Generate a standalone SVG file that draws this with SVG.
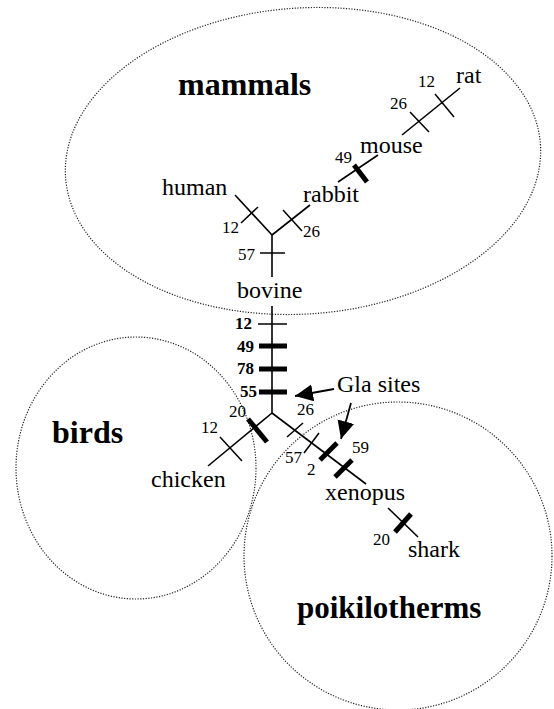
<svg xmlns="http://www.w3.org/2000/svg" width="554" height="709" viewBox="0 0 554 709">
<style>
.region{fill:none;stroke:#222;stroke-width:1.2;stroke-dasharray:1.2 1.5}
.grp{font-family:"Liberation Serif","Times New Roman",serif;font-weight:bold;font-size:32px;fill:#000}
.lbl{font-family:"Liberation Serif","Times New Roman",serif;font-size:24px;fill:#000}
.num{font-family:"Liberation Serif","Times New Roman",serif;font-size:17px;fill:#000}
.numb{font-family:"Liberation Serif","Times New Roman",serif;font-size:17px;font-weight:bold;fill:#000}
.br{stroke:#000;stroke-width:1.6;fill:none}
.tk{stroke:#000;stroke-width:1.5;fill:none}
.tkb{stroke:#000;stroke-width:5;fill:none}
.arr{stroke:#000;stroke-width:1.8;fill:none}
</style>
<defs>
<marker id="ah" markerUnits="userSpaceOnUse" markerWidth="20" markerHeight="20" refX="18" refY="8.5" orient="auto">
<path d="M0,0 L18,8.5 L0,17 Z" fill="#000"/>
</marker>
</defs>
<rect width="554" height="709" fill="#fff"/>
<g id="mammals">
<ellipse class="region" cx="303" cy="161" rx="238" ry="153" transform="rotate(-4 303 161)"/>
<text class="grp" x="178" y="95">mammals</text>
</g>
<g id="birds">
<ellipse class="region" cx="136" cy="468" rx="120" ry="131"/>
<text class="grp" x="52" y="443">birds</text>
</g>
<g id="poikilotherms">
<circle class="region" cx="398" cy="556" r="154"/>
<text class="grp" x="297" y="618" style="font-size:31px">poikilotherms</text>
</g>
<g id="connectors">
<line class="br" x1="272" y1="235" x2="272" y2="277"/>
<line class="br" x1="272" y1="235" x2="235" y2="195"/>
<line class="br" x1="272" y1="235" x2="310" y2="205"/>
<line class="br" x1="338" y1="182" x2="378" y2="155"/>
<line class="br" x1="402" y1="135" x2="460" y2="88"/>
<line class="br" x1="272" y1="306" x2="272" y2="413"/>
<line class="br" x1="272" y1="413" x2="208" y2="466"/>
<line class="br" x1="272" y1="413" x2="366" y2="484"/>
<line class="br" x1="388" y1="508" x2="418" y2="537"/>
<line class="tk" x1="241" y1="223" x2="258" y2="207"/>
<line class="tk" x1="283" y1="210" x2="302" y2="231"/>
<line class="tk" x1="260" y1="253" x2="285" y2="253"/>
<line class="tkb" x1="354" y1="165" x2="367" y2="182"/>
<line class="tk" x1="410" y1="112" x2="429" y2="132"/>
<line class="tk" x1="435" y1="94" x2="454" y2="117"/>
<line class="tk" x1="258" y1="324" x2="287" y2="324"/>
<line class="tkb" x1="259" y1="346" x2="287" y2="346"/>
<line class="tkb" x1="259" y1="369" x2="287" y2="369"/>
<line class="tkb" x1="259" y1="392" x2="287" y2="392"/>
<line class="tkb" x1="248" y1="419" x2="267" y2="442"/>
<line class="tk" x1="220" y1="437" x2="242" y2="461"/>
<line class="tk" x1="287" y1="437" x2="303" y2="423"/>
<line class="tk" x1="319" y1="433" x2="304" y2="453"/>
<line class="tkb" x1="320" y1="460" x2="337" y2="443"/>
<line class="tkb" x1="335" y1="477" x2="352" y2="460"/>
<line class="tkb" x1="395" y1="532" x2="411" y2="514"/>
<line class="arr" x1="334" y1="389" x2="295" y2="396" marker-end="url(#ah)"/>
<line class="arr" x1="351" y1="403" x2="341" y2="439" marker-end="url(#ah)"/>
</g>
<g id="rat"><text class="lbl" x="456" y="83">rat</text></g>
<g id="mouse"><text class="lbl" x="360" y="153">mouse</text></g>
<g id="rabbit"><text class="lbl" x="303" y="202">rabbit</text></g>
<g id="human"><text class="lbl" x="162" y="195">human</text></g>
<g id="bovine"><text class="lbl" x="237" y="298">bovine</text></g>
<g id="chicken"><text class="lbl" x="151" y="487">chicken</text></g>
<g id="xenopus"><text class="lbl" x="325" y="500">xenopus</text></g>
<g id="shark"><text class="lbl" x="408" y="557">shark</text></g>
<g id="gla-sites"><text class="lbl" x="337" y="392">Gla sites</text></g>
<g id="site-numbers">
<text class="num" x="418" y="87">12</text>
<text class="num" x="390" y="109">26</text>
<text class="num" x="335" y="163">49</text>
<text class="num" x="222" y="233">12</text>
<text class="num" x="303" y="237">26</text>
<text class="num" x="238" y="260">57</text>
<text class="numb" x="235" y="329">12</text>
<text class="numb" x="237" y="352">49</text>
<text class="numb" x="237" y="374">78</text>
<text class="numb" x="240" y="397">55</text>
<text class="num" x="229" y="417">20</text>
<text class="num" x="201" y="433">12</text>
<text class="num" x="297" y="415">26</text>
<text class="num" x="285" y="463">57</text>
<text class="num" x="307" y="475">2</text>
<text class="num" x="352" y="453">59</text>
<text class="num" x="373" y="545">20</text>
</g>
</svg>
